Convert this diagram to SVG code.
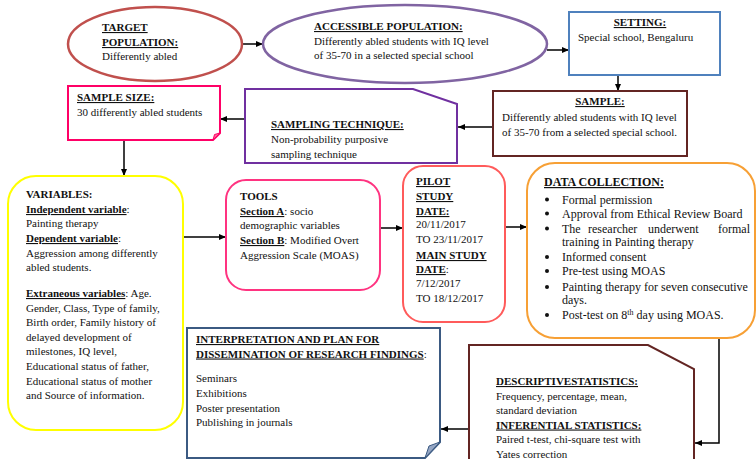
<svg xmlns="http://www.w3.org/2000/svg" width="756" height="459" viewBox="0 0 756 459">
<defs>
<marker id="ah" markerUnits="userSpaceOnUse" markerWidth="8" markerHeight="8" refX="7" refY="4" orient="auto">
<path d="M0,1 L7,4 L0,7 Z" fill="#000"/>
</marker>
<style>
text{font-family:"Liberation Serif","Times New Roman",serif;font-size:11px;fill:#111;}
.b{font-weight:bold;}
.u{font-weight:bold;text-decoration:underline;}
.dc{font-size:12px;}
.con{fill:none;stroke:#000;stroke-width:1.5;marker-end:url(#ah);}
</style>
</defs>
<rect width="756" height="459" fill="#fff"/>
<g id="connectors">
<path class="con" d="M242,44 H263"/>
<path class="con" d="M547,50 H569"/>
<path class="con" d="M618,75 V91"/>
<path class="con" d="M493,127 H458"/>
<path class="con" d="M245,119 H220"/>
<path class="con" d="M124,140 V176"/>
<path class="con" d="M183,237 H226"/>
<path class="con" d="M380,228 H403"/>
<path class="con" d="M505,227 H527"/>
<path class="con" d="M719,338 V443 H695"/>
<path class="con" d="M469,429 H441"/>
</g>
<g id="target">
<ellipse cx="155" cy="44" rx="87" ry="37" fill="#fff" stroke="#c0504d" stroke-width="2.5"/>
<text x="102" y="31" class="u">TARGET</text>
<text x="102" y="46" class="u">POPULATION:</text>
<text x="102" y="60">Differently abled</text>
</g>
<g id="accessible">
<ellipse cx="405" cy="44" rx="142" ry="39" fill="#fff" stroke="#8064a2" stroke-width="2.5"/>
<text x="314" y="30" class="u">ACCESSIBLE POPULATION:</text>
<text x="314" y="45">Differently abled students with IQ level</text>
<text x="314" y="59">of 35-70 in a selected special school</text>
</g>
<g id="setting">
<rect x="569" y="12" width="151" height="63" fill="#fff" stroke="#4f81bd" stroke-width="2"/>
<text x="640" y="26" class="u" text-anchor="middle">SETTING:</text>
<text x="578" y="41">Special school, Bengaluru</text>
</g>
<g id="sample">
<rect x="493" y="91" width="194" height="65" fill="#fff" stroke="#632523" stroke-width="2"/>
<text x="600" y="105" class="u" text-anchor="middle">SAMPLE:</text>
<text x="502" y="121">Differently abled students with IQ level</text>
<text x="502" y="136">of 35-70 from a selected special school.</text>
</g>
<g id="sampling-technique">
<path d="M245,89 H413 L457,104 V163 H245 Z" fill="#fff" stroke="#7030a0" stroke-width="2"/>
<text x="271" y="128" class="u">SAMPLING TECHNIQUE:</text>
<text x="271" y="143">Non-probability purposive</text>
<text x="271" y="158">sampling technique</text>
</g>
<g id="sample-size">
<path d="M68,86 H220 V133 L213,140 H68 Z" fill="#fff" stroke="#ff0066" stroke-width="2"/>
<path d="M220,133 L213,140 L214.5,134.5 Z" fill="#ff6699" stroke="#ff0066" stroke-width="1"/>
<text x="77" y="101" class="u">SAMPLE SIZE:</text>
<text x="77" y="116">30 differently abled students</text>
</g>
<g id="variables">
<rect x="8" y="176" width="175" height="254" rx="28" fill="#fff" stroke="#ffff00" stroke-width="2"/>
<text x="26" y="198" class="b">VARIABLES:</text>
<text x="26" y="213"><tspan class="u">Independent variable</tspan>:</text>
<text x="26" y="227">Painting therapy</text>
<text x="26" y="242"><tspan class="u">Dependent variable</tspan>:</text>
<text x="26" y="257">Aggression among differently</text>
<text x="26" y="271">abled students.</text>
<text x="26" y="297"><tspan class="u">Extraneous variables</tspan>: Age.</text>
<text x="26" y="311.5">Gender, Class, Type of family,</text>
<text x="26" y="326">Birth order, Family history of</text>
<text x="26" y="340.5">delayed development of</text>
<text x="26" y="355">milestones, IQ level,</text>
<text x="26" y="370">Educational status of father,</text>
<text x="26" y="384.5">Educational status of mother</text>
<text x="26" y="399">and Source of information.</text>
</g>
<g id="tools">
<rect x="226" y="180" width="154" height="110" rx="20" fill="#fff" stroke="#ff3380" stroke-width="2"/>
<text x="240" y="200" class="b">TOOLS</text>
<text x="240" y="215"><tspan class="u">Section A</tspan>: socio</text>
<text x="240" y="229">demographic variables</text>
<text x="240" y="244"><tspan class="u">Section B</tspan>: Modified Overt</text>
<text x="240" y="259">Aggression Scale (MOAS)</text>
</g>
<g id="pilot">
<rect x="403" y="166" width="102" height="156" rx="20" fill="#fff" stroke="#ff5b5b" stroke-width="2"/>
<text x="416" y="185" class="u">PILOT</text>
<text x="416" y="200" class="u">STUDY</text>
<text x="416" y="215" class="u">DATE:</text>
<text x="416" y="228">20/11/2017</text>
<text x="416" y="243">TO 23/11/2017</text>
<text x="416" y="259" class="u">MAIN STUDY</text>
<text x="416" y="273"><tspan class="u">DATE</tspan>:</text>
<text x="416" y="287">7/12/2017</text>
<text x="416" y="302">TO 18/12/2017</text>
</g>
<g id="data-collection">
<rect x="527" y="163" width="228" height="175" rx="28" fill="#fff" stroke="#f7a035" stroke-width="2"/>
<text x="544" y="186" class="u dc">DATA COLLECTION:</text>
<g fill="#111">
<circle cx="547" cy="199.5" r="2"/>
<circle cx="547" cy="213.5" r="2"/>
<circle cx="547" cy="228.5" r="2"/>
<circle cx="547" cy="257" r="2"/>
<circle cx="547" cy="271" r="2"/>
<circle cx="547" cy="287" r="2"/>
<circle cx="547" cy="315" r="2"/>
</g>
<text x="562" y="203.5" class="dc">Formal permission</text>
<text x="562" y="217.5" class="dc">Approval from Ethical Review Board</text>
<text y="232.5" class="dc"><tspan x="562">The</tspan><tspan x="588">researcher</tspan><tspan x="648">underwent</tspan><tspan x="718">formal</tspan></text>
<text x="562" y="246" class="dc">training in Painting therapy</text>
<text x="562" y="261" class="dc">Informed consent</text>
<text x="562" y="275" class="dc">Pre-test using MOAS</text>
<text x="562" y="291" class="dc">Painting therapy for seven consecutive</text>
<text x="562" y="304" class="dc">days.</text>
<text x="562" y="319" class="dc">Post-test on 8<tspan font-size="8" dy="-4">th</tspan><tspan dy="4"> day using MOAS.</tspan></text>
</g>
<g id="statistics">
<path d="M469,345 H648 L694,369 V462 H469 Z" fill="#fff" stroke="#632523" stroke-width="2"/>
<text x="496" y="385" class="u">DESCRIPTIVESTATISTICS:</text>
<text x="496" y="399.5">Frequency, percentage, mean,</text>
<text x="496" y="414">standard deviation</text>
<text x="496" y="428.5" class="u">INFERENTIAL STATISTICS:</text>
<text x="496" y="443">Paired t-test, chi-square test with</text>
<text x="496" y="458">Yates correction</text>
</g>
<g id="interpretation">
<path d="M187,328 H440 V442 L425,458 H187 Z" fill="#fff" stroke="#3b5a82" stroke-width="2"/>
<path d="M440,442 L425,458 L429,446 Z" fill="#95a6c4" stroke="#3b5a82" stroke-width="1"/>
<text x="196" y="343" class="u">INTERPRETATION AND PLAN FOR</text>
<text x="196" y="357.5"><tspan class="u">DISSEMINATION OF RESEARCH FINDINGS</tspan>:</text>
<text x="196" y="382">Seminars</text>
<text x="196" y="396.5">Exhibitions</text>
<text x="196" y="411.5">Poster presentation</text>
<text x="196" y="425.5">Publishing in journals</text>
</g>
</svg>
